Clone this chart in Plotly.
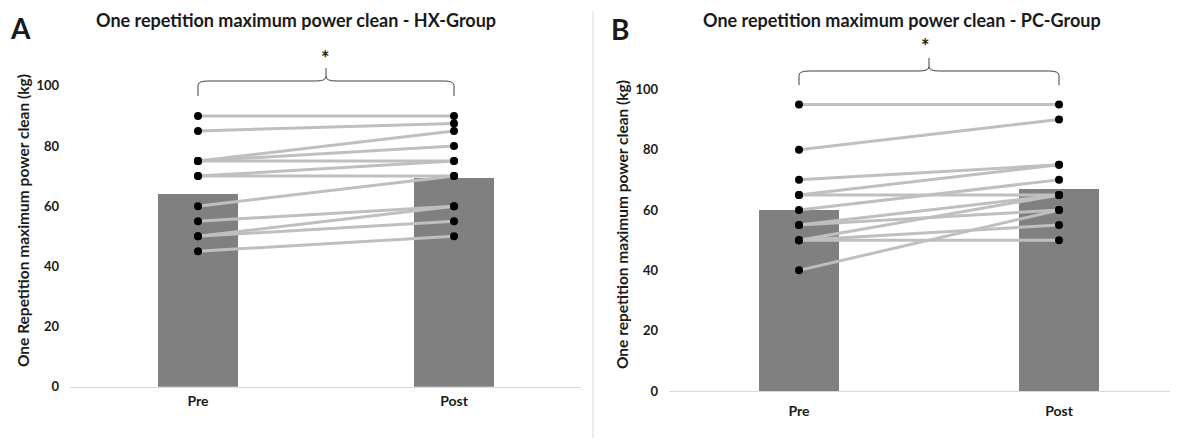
import plotly.graph_objects as go

# ---------------- data ----------------
categories = ["Pre", "Post"]

# Panel A: HX-Group
hx_means = [64.2, 69.6]
hx_pre = [90, 85, 75, 75, 75, 70, 70, 60, 55, 50, 50, 45]
hx_post = [90, 87.5, 85, 80, 75, 75, 70, 70, 60, 60, 55, 50]

# Panel B: PC-Group
pc_means = [60.0, 67.0]
pc_pre = [95, 80, 70, 65, 65, 60, 55, 55, 50, 50, 50, 40]
pc_post = [95, 90, 75, 75, 65, 70, 65, 60, 65, 55, 50, 60]

y_ticks = [0, 20, 40, 60, 80, 100]

titles = ["One repetition maximum power clean - HX-Group",
          "One repetition maximum power clean - PC-Group"]
y_titles = ["One Repetition maximum power clean (kg)",
            "One repetition maximum power clean (kg)"]
panel_letters = ["A", "B"]

FONT = "Lato"
OFF = 8        # page body margin offset
SY = 0.982     # observed vertical compression of the rendered page
W = 1178 - OFF
H = int(round(441 / SY)) - 2 * OFF
BAR_COLOR = "#808080"
LINE_COLOR = "#bfbfbf"
TEXT_COLOR = "#1a1a1a"


def fx(p):
    return (p - OFF) / W


def fy(p):
    return 1 - (p / SY - OFF) / H


fig = go.Figure()


def add_panel(idx, means, pre, post):
    xa = "x" if idx == 0 else "x2"
    ya = "y" if idx == 0 else "y2"
    fig.add_trace(go.Bar(x=[0, 1], y=means, width=0.31, marker_color=BAR_COLOR,
                         marker_line_width=0, xaxis=xa, yaxis=ya, showlegend=False))
    for a, b in zip(pre, post):
        fig.add_trace(go.Scatter(x=[0, 1], y=[a, b], mode="lines+markers",
                                 line=dict(color=LINE_COLOR, width=3),
                                 marker=dict(color="black", size=8),
                                 xaxis=xa, yaxis=ya, showlegend=False,
                                 cliponaxis=False))


add_panel(0, hx_means, hx_pre, hx_post)
add_panel(1, pc_means, pc_pre, pc_post)

axis_common = dict(showgrid=False, zeroline=False)
xtick_font = dict(size=14, family=FONT, color=TEXT_COLOR, weight="bold")
ytick_font = dict(size=13, family=FONT, color=TEXT_COLOR, weight="bold")
fig.update_layout(
    width=W, height=H,
    margin=dict(l=0, r=0, t=0, b=0),
    paper_bgcolor="white", plot_bgcolor="white",
    bargap=0,
    font=dict(family=FONT, color=TEXT_COLOR),
    xaxis=dict(domain=[fx(70), fx(581)], range=[-0.5, 1.496],
               tickvals=[0, 1], ticktext=categories,
               showline=True, linecolor="#d9d9d9", linewidth=1,
               ticks="outside", ticklen=2, tickcolor="rgba(0,0,0,0)",
               tickfont=xtick_font, anchor="y", **axis_common),
    yaxis=dict(domain=[fy(386.7), fy(386.7 - 108 * 3.01)], range=[0, 108],
               tickvals=y_ticks, ticklabelstandoff=10,
               tickfont=ytick_font, anchor="x", **axis_common),
    xaxis2=dict(domain=[fx(669), 1.0], range=[-0.5, 1.5 - 11 / 260],
                tickvals=[0, 1], ticktext=categories,
                showline=True, linecolor="#d9d9d9", linewidth=1,
                ticks="outside", ticklen=7, tickcolor="rgba(0,0,0,0)",
                tickfont=xtick_font, anchor="y2", **axis_common),
    yaxis2=dict(domain=[fy(391), fy(391 - 112 * 3.017)], range=[0, 112],
                tickvals=y_ticks, ticklabelstandoff=10,
                tickfont=ytick_font, anchor="x2", **axis_common),
)


def brace(xref, yref, y_low, y_mid, y_tip):
    r = 0.04
    dy = (y_mid - y_low) * 0.3
    path = (f"M 0,{y_low} L 0,{y_mid - dy} Q 0,{y_mid} {r},{y_mid} "
            f"L {0.5 - r},{y_mid} Q 0.5,{y_mid} 0.5,{y_mid + dy} L 0.5,{y_tip} "
            f"M 0.5,{y_mid + dy} Q 0.5,{y_mid} {0.5 + r},{y_mid} "
            f"L {1 - r},{y_mid} Q 1,{y_mid} 1,{y_mid - dy} L 1,{y_low}")
    fig.add_shape(type="path", path=path, xref=xref, yref=yref,
                  line=dict(color="#404040", width=1))


brace("x", "y", 96.6, 101.6, 105.9)
brace("x2", "y2", 101.4, 106.1, 110.4)


def px_ann(text, x, y, size, bold=True, angle=0):
    fig.add_annotation(text=f"<b>{text}</b>" if bold else text,
                       x=fx(x), y=fy(y), xref="paper", yref="paper",
                       showarrow=False, textangle=angle,
                       xanchor="center", yanchor="middle",
                       font=dict(size=size, family=FONT, color=TEXT_COLOR))


# titles
px_ann(titles[0], 296, 20, 18)
px_ann(titles[1], 902, 20, 18)
# panel letters
px_ann(panel_letters[0], 20, 28, 28)
px_ann(panel_letters[1], 620, 29, 28)
# y-axis titles
px_ann(y_titles[0], 23, 221, 15.5, angle=-90)
px_ann(y_titles[1], 622, 225, 15.5, angle=-90)
# asterisks
px_ann("*", 325, 58, 20)
px_ann("*", 925, 46, 20)

# separator between panels
fig.add_shape(type="line", xref="paper", yref="paper",
              x0=fx(593), x1=fx(593), y0=fy(3 + OFF), y1=fy(438),
              line=dict(color="#d9d9d9", width=1))

fig.write_html("out.html")
